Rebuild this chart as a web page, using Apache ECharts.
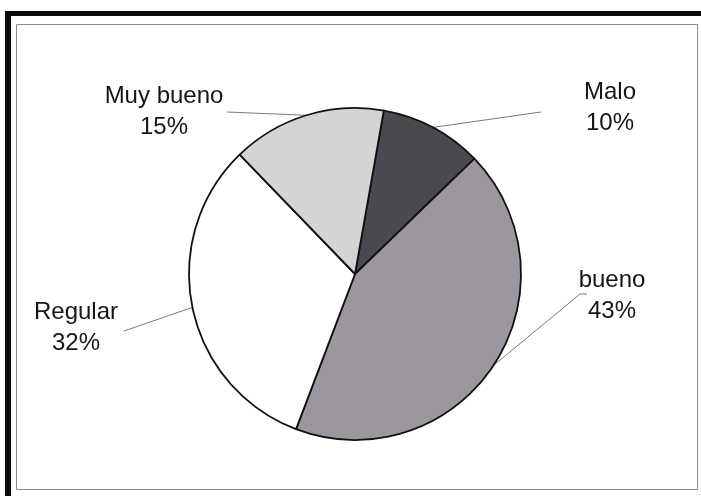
<!DOCTYPE html>
<html>
<head>
<meta charset="utf-8">
<style>
  html, body { margin: 0; padding: 0; background: #ffffff; }
  #chart { width: 701px; height: 496px; }
</style>
<script src="https://cdn.jsdelivr.net/npm/echarts@6/dist/echarts.min.js"></script>
</head>
<body>
<div id="chart"></div>
<script>
// Survey rating shares, clockwise from just right of 12 o'clock
const categories = ['Malo', 'bueno', 'Regular', 'Muy bueno'];
const shares = [10, 43, 32, 15];

// Greyscale fills for each slice
const sliceColors = ['#4b4850', '#9c979e', '#ffffff', '#d5d3d4'];

// Where each two-line label sits, and the remaining points of its leader line
const labelAnchors = {
  'Malo':      { x: 610, y: 108, line: [[541, 112]] },
  'bueno':     { x: 612, y: 296, line: [[580, 294], [587, 294]] },
  'Regular':   { x: 76,  y: 328, line: [[124, 331]] },
  'Muy bueno': { x: 164, y: 112, line: [[227, 112]] }
};

const chart = echarts.init(document.getElementById('chart'), null, { renderer: 'canvas' });

chart.setOption({
  backgroundColor: '#ffffff',
  animation: false,
  graphic: [
    // heavy frame on the left and top edges
    { type: 'rect', shape: { x: 5, y: 11, width: 6, height: 490 }, style: { fill: '#0a0a0a' } },
    { type: 'rect', shape: { x: 5, y: 11, width: 700, height: 5 }, style: { fill: '#0a0a0a' } },
    // thin inner plot border
    { type: 'rect', shape: { x: 16.5, y: 24.5, width: 681, height: 465 },
      style: { fill: 'none', stroke: '#8a8a8a', lineWidth: 1 } }
  ],
  series: [{
    type: 'pie',
    center: [355, 274],
    radius: 166,
    startAngle: 80,
    clockwise: true,
    avoidLabelOverlap: false,
    data: categories.map((name, i) => ({
      name: name,
      value: shares[i],
      itemStyle: { color: sliceColors[i] }
    })),
    itemStyle: { borderColor: '#111111', borderWidth: 1.8 },
    label: {
      show: true,
      position: 'outside',
      formatter: '{b}\n{d}%',
      fontFamily: 'Liberation Sans, Arial, sans-serif',
      fontSize: 24,
      lineHeight: 31,
      color: '#151515',
      align: 'center'
    },
    labelLine: {
      show: true,
      lineStyle: { color: '#7a7a7a', width: 1 }
    },
    labelLayout: function (params) {
      const name = categories[params.dataIndex];
      const a = labelAnchors[name];
      const start = params.labelLinePoints ? params.labelLinePoints[0] : null;
      const out = { x: a.x, y: a.y, align: 'center', verticalAlign: 'middle' };
      if (start) {
        out.labelLinePoints = [[start[0], start[1]]].concat(a.line);
      }
      return out;
    },
    emphasis: { disabled: true }
  }]
});
</script>
</body>
</html>
